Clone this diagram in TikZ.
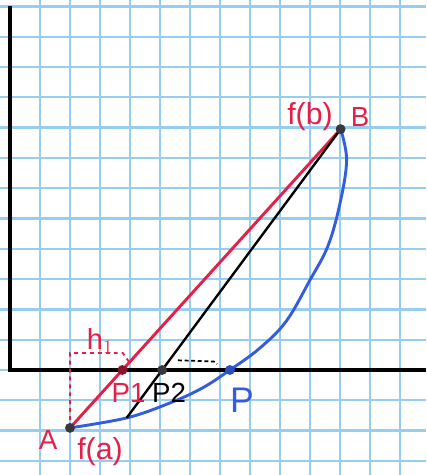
\documentclass[tikz,border=0pt]{standalone}
\usepackage{fontspec}
\setmainfont{Liberation Sans}

\definecolor{griglia}{RGB}{150,205,240}
\definecolor{rosso}{RGB}{228,32,72}
\definecolor{blu}{RGB}{52,92,222}
\definecolor{punto}{RGB}{55,55,60}

\begin{document}
\begin{tikzpicture}[x=0.8cm, y=0.808cm,
    etich/.style={font=\fontsize{21}{25}\selectfont, inner sep=0pt},
    pallino/.style={circle, fill=punto, inner sep=0pt, minimum size=7.5pt}]

    \useasboundingbox (-0.333,-3.465) rectangle (13.867,12.211);
    \fill[white] (-0.333,-3.465) rectangle (13.867,12.211);

    % Griglia
    \foreach \x in {1,...,13}
        \draw[griglia, line width=1.7pt] (\x,-3.465) -- (\x,12.211);
    \foreach \y in {-3,...,12}
        \draw[griglia, line width=1.7pt] (-0.333,\y) -- (13.867,\y);

    % Assi
    \draw[line width=2.6pt] (0,12.01) -- (0,0) -- (13.867,0);

    % Punti
    \coordinate (A) at (2,-1.91);
    \coordinate (B) at (11.02,7.95);
    \coordinate (C) at (3.89,-1.58);
    \coordinate (P1) at (3.747,0);
    \coordinate (P2) at (5.072,0);
    \coordinate (P) at (7.33,0);

    % Curva
    \draw[blu, line width=2.2pt] plot[smooth, tension=0.6] coordinates
        {(A) (C) (5.3,-1.1) (6.4,-0.6) (P) (8.3,0.7) (9.2,1.6) (10,2.97)
         (10.6,4.1) (11,5.5) (11.22,6.93) (B)};

    % Corde
    \draw[rosso, line width=2.2pt] (A) -- (B);
    \draw[line width=1.8pt] (C) -- (B);

    % Tratteggi
    \draw[rosso, dashed, line width=1.4pt] (A) -- (2,0.56) -- (3.76,0.56) -- (3.98,0.25);
    \draw[densely dashed, line width=1.3pt] (5.6,0.32) -- (6.8,0.28) -- (6.9,0.2);

    % Pallini
    \node[pallino] (nA) at (A) {};
    \node[pallino] (nB) at (B) {};
    \node[pallino, fill=rosso!60!black] (nP1) at (P1) {};
    \node[pallino] (nP2) at (P2) {};
    \node[pallino, fill=blu!85!black] (nP) at (P) {};

    % Etichette
    \node[etich, rosso] (lA) at (1.27,-2.31) {A};
    \node[etich, rosso, font=\fontsize{23}{27}\selectfont] (lfa) at (3,-2.71) {f(a)};
    \node[etich, rosso] (lP1) at (3.95,-0.76) {P1};
    \node[etich] (lP2) at (5.3,-0.76) {P2};
    \node[etich, blu, font=\fontsize{27}{31}\selectfont] (lP) at (7.73,-0.99) {P};
    \node[etich, rosso, font=\fontsize{23}{27}\selectfont] (lfb) at (10,8.35) {f(b)};
    \node[etich, rosso] (lB) at (11.67,8.35) {B};
    \node[etich, rosso, font=\fontsize{22}{26}\selectfont] (lh) at (3,0.95) {h$_1$};

\end{tikzpicture}
\end{document}
